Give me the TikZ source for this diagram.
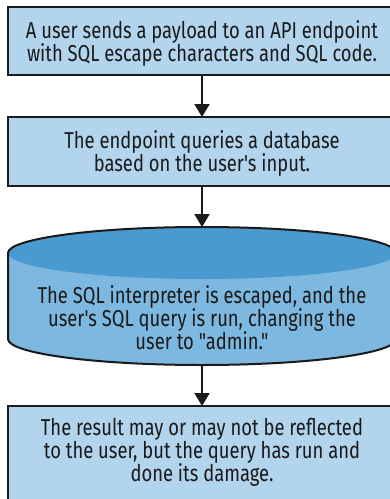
\documentclass[tikz,border=0pt]{standalone}
\usepackage{fontspec}
\setmainfont[FakeStretch=0.8, Ligatures=TeXOff]{Fira Sans}
\usetikzlibrary{arrows.meta}
\definecolor{boxfill}{HTML}{B2D4EC}
\definecolor{cyltop}{HTML}{4A9AD0}
\definecolor{cylside}{HTML}{7DB8E0}
\definecolor{ink}{HTML}{1A1A1A}
\tikzset{
  box/.style={draw=ink, line width=1.5pt, fill=boxfill, minimum width=388pt, inner sep=0pt, outer sep=0pt},
  txt/.style={align=center, font=\fontsize{23pt}{23pt}\selectfont, text=ink, inner sep=0pt},
  flow/.style={draw=ink, line width=2pt, -{Triangle[length=13pt,width=15pt]}},
}
\begin{document}
\begin{tikzpicture}[x=1pt,y=1pt]
\useasboundingbox (0,0) rectangle (390,-499);
\clip (0,0) rectangle (390,-499);
\fill[white] (0,0) rectangle (390,-499);
% box 1
\node[box, minimum height=68pt] (b1) at (202,-41) {};
\node[txt] (t1) at (202,-43) {A user sends a payload to an API endpoint\\with SQL escape characters and SQL code.};
% box 2
\node[box, minimum height=69pt] (b2) at (202,-151.5) {};
\node[txt] (t2) at (202,-153) {The endpoint queries a database\\based on the user's input.};
% cylinder
\fill[cylside] (8,-253) -- (8,-339) arc[start angle=180,end angle=360,x radius=194,y radius=26] -- (396,-253) -- cycle;
\fill[cyltop] (202,-253) ellipse[x radius=194,y radius=26];
\draw[ink, line width=2pt] (8,-339) -- (8,-253) arc[start angle=180,end angle=0,x radius=194,y radius=26] -- (396,-339) arc[start angle=0,end angle=-180,x radius=194,y radius=26] -- cycle;
\node[minimum width=388pt, minimum height=138pt, inner sep=0pt, outer sep=0pt] (cyl) at (202,-296) {};
\node[txt] (t3) at (202,-318) {The SQL interpreter is escaped, and the\\user's SQL query is run, changing the\\user to "admin."};
% box 4
\node[box, minimum height=120pt, anchor=north] (b4) at (202,-406) {};
\node[txt] (t4) at (202,-452) {The result may or may not be reflected\\to the user, but the query has run and\\done its damage.};
% arrows
\draw[flow] (b1.south) -- (b2.north);
\draw[flow] (b2.south) -- (cyl.north);
\draw[flow] (cyl.south) -- (b4.north);
\end{tikzpicture}
\end{document}
